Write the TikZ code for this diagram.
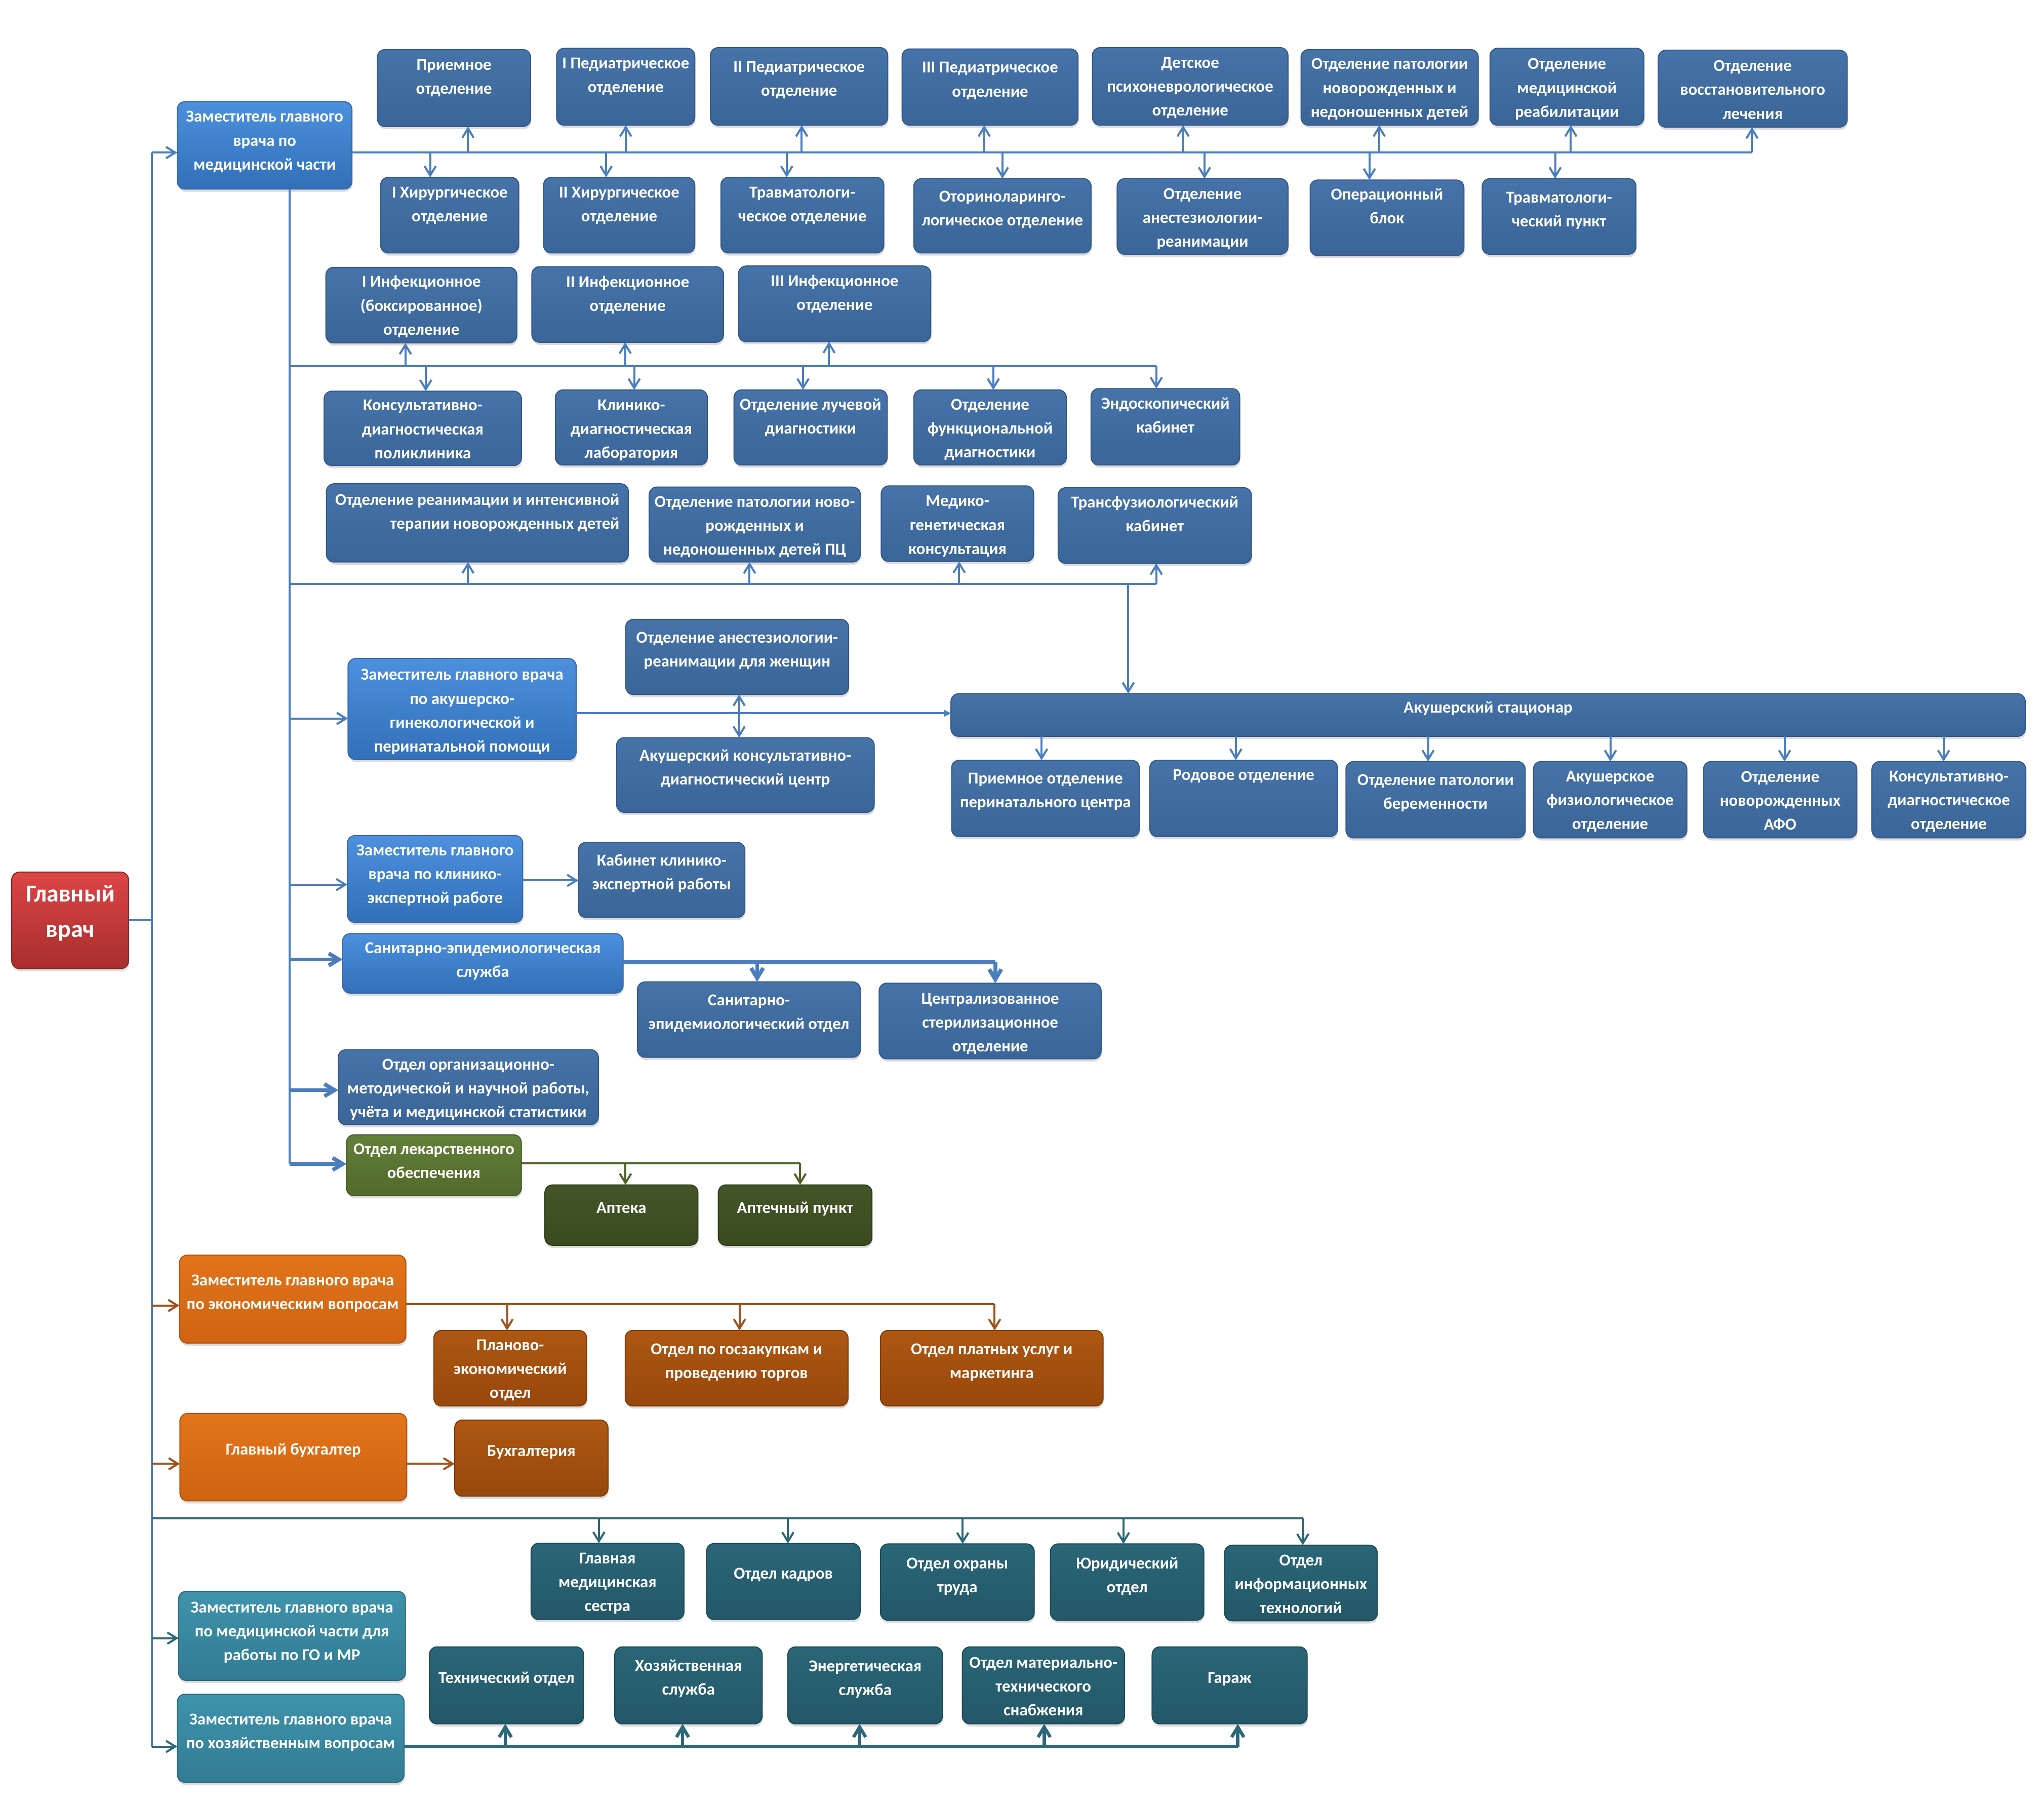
\documentclass[tikz,border=0pt]{standalone}
\usepackage{fontspec}
\setmainfont{Carlito}
\usetikzlibrary{arrows.meta,shadows}
\definecolor{lnB}{HTML}{4A7EBF}
\definecolor{dkTop}{HTML}{4673A8}
\definecolor{dkBot}{HTML}{3A6598}
\definecolor{dkDraw}{HTML}{33588A}
\definecolor{ltTop}{HTML}{4C90DE}
\definecolor{ltMid}{HTML}{3E7ECB}
\definecolor{ltBot}{HTML}{3270B8}
\definecolor{ltDraw}{HTML}{3566A8}
\definecolor{rdTop}{HTML}{DC4545}
\definecolor{rdBot}{HTML}{A82E2E}
\definecolor{rdDraw}{HTML}{8A2626}
\definecolor{orTop}{HTML}{E2741A}
\definecolor{orBot}{HTML}{CF6311}
\definecolor{orDraw}{HTML}{AA540F}
\definecolor{doTop}{HTML}{AD5712}
\definecolor{doBot}{HTML}{98480C}
\definecolor{doDraw}{HTML}{7E3C0A}
\definecolor{grTop}{HTML}{63803A}
\definecolor{grBot}{HTML}{51692B}
\definecolor{grDraw}{HTML}{44581F}
\definecolor{dgTop}{HTML}{445628}
\definecolor{dgBot}{HTML}{3A4A1F}
\definecolor{dgDraw}{HTML}{2F3C18}
\definecolor{tlTop}{HTML}{3E93AB}
\definecolor{tlBot}{HTML}{327C93}
\definecolor{tlDraw}{HTML}{2A6A7E}
\definecolor{dtTop}{HTML}{2A6677}
\definecolor{dtBot}{HTML}{235868}
\definecolor{dtDraw}{HTML}{1C4A57}
\definecolor{lnO}{HTML}{A0521B}
\definecolor{lnG}{HTML}{4F6228}
\definecolor{lnT}{HTML}{2B6878}
\def\U{0.64375pt}
\tikzset{
  bxbase/.style={rounded corners=3.8pt, inner sep=0pt, outer sep=0pt, line width=0.5pt,
    drop shadow={opacity=0.28, shadow xshift=0.3pt, shadow yshift=-1.3pt}},
  dk/.style={bxbase, draw=dkDraw, top color=dkTop, bottom color=dkBot},
  lt/.style={bxbase, draw=ltDraw, top color=ltTop, middle color=ltMid, bottom color=ltBot},
  rd/.style={bxbase, draw=rdDraw, top color=rdTop, bottom color=rdBot},
  orz/.style={bxbase, draw=orDraw, top color=orTop, bottom color=orBot},
  dor/.style={bxbase, draw=doDraw, top color=doTop, bottom color=doBot},
  grz/.style={bxbase, draw=grDraw, top color=grTop, bottom color=grBot},
  dgr/.style={bxbase, draw=dgDraw, top color=dgTop, bottom color=dgBot},
  tlz/.style={bxbase, draw=tlDraw, top color=tlTop, bottom color=tlBot},
  dtl/.style={bxbase, draw=dtDraw, top color=dtTop, bottom color=dtBot},
  txt/.style={text=white, font=\bfseries\fontsize{8.2}{11.78}\selectfont, align=center, inner sep=0pt, anchor=north},
  bigtxt/.style={text=white, font=\bfseries\fontsize{12}{17.6}\selectfont, align=center, inner sep=0pt},
  ln/.style={draw=lnB, line width=1pt},
  arr/.style={ln, -{Straight Barb[length=4.6pt,width=5.6pt]}},
  arrboth/.style={ln, {Straight Barb[length=4.6pt,width=5.6pt]}-{Straight Barb[length=4.6pt,width=5.6pt]}},
  tk/.style={draw=lnB, line width=1.9pt},
  tkarr/.style={tk, -{Straight Barb[length=5pt,width=6pt]}},
  gln/.style={draw=lnG, line width=1pt},
  garr/.style={gln, -{Straight Barb[length=4.6pt,width=5.6pt]}},
  oln/.style={draw=lnO, line width=1pt},
  oarr/.style={oln, -{Straight Barb[length=4.6pt,width=5.6pt]}},
  tln/.style={draw=lnT, line width=1pt},
  tarr/.style={tln, -{Straight Barb[length=4.6pt,width=5.6pt]}},
  ttk/.style={draw=lnT, line width=1.6pt},
  ttkarr/.style={ttk, -{Straight Barb[length=5pt,width=6pt]}},
}
\newcommand\bx[9]{%
  \node[#1, minimum width={(#5-#3)*\U}, minimum height={(#6-#4)*\U}] (#2) at ({(#3+#5)/2},{(#4+#6)/2}) {};
  \node[txt,#8] (#2t) at ({(#3+#5)/2},{#7-7}) {\rule{0pt}{7pt}#9};}
\newcommand\vto[4]{\coordinate (#2) at (#3); \draw[#1] (#2) -- (#2 |- #4);}
\newcommand\hto[4]{\coordinate (#2) at (#3); \draw[#1] (#2) -- (#2 -| #4);}
\begin{document}
\begin{tikzpicture}[x=0.64375pt,y=-0.64375pt]
\useasboundingbox[fill=white] (0,0) rectangle (1568,1384);
% root
\node[rd, minimum width={(98.6-9)*\U}, minimum height={(742.8-668.8)*\U}] (R) at (53.8,705.8) {};
\node[bigtxt] (Rt) at (54,700.3) {Главный\\врач};
% medical part
\bx{lt}{Zmed}{136}{78}{270}{145}{89.4}{}{Заместитель главного\\врача по\\медицинской части}
\bx{dk}{A1}{289.5}{38}{407}{97}{49.6}{}{Приемное\\отделение}
\bx{dk}{A2}{427}{37}{533}{96}{48.4}{}{I Педиатрическое\\отделение}
\bx{dk}{A3}{545}{36.5}{681}{96}{51.1}{}{II Педиатрическое\\отделение}
\bx{dk}{A4}{692}{37.5}{827}{96}{51.7}{}{III Педиатрическое\\отделение}
\bx{dk}{A5}{838}{36.5}{988}{96}{48.1}{}{Детское\\психоневрологическое\\отделение}
\bx{dk}{A6}{998}{38}{1134}{96}{49}{}{Отделение патологии\\новорожденных и\\недоношенных детей}
\bx{dk}{A7}{1143}{37}{1261}{96}{49}{}{Отделение\\медицинской\\реабилитации}
\bx{dk}{A8}{1272}{38.5}{1417}{97.5}{50.5}{}{Отделение\\восстановительного\\лечения}
\bx{dk}{B1}{292}{136}{398}{194}{147.4}{}{I Хирургическое\\отделение}
\bx{dk}{B2}{417}{136}{533}{194}{147.4}{}{II Хирургическое\\отделение}
\bx{dk}{B3}{553}{136}{678}{194}{147.4}{}{Травматологи-\\ческое отделение}
\bx{dk}{B4}{701}{137}{837}{194}{150.4}{}{Оториноларинго-\\логическое отделение}
\bx{dk}{B5}{857}{137}{988}{195}{148.6}{}{Отделение\\анестезиологии-\\реанимации}
\bx{dk}{B6}{1005}{138}{1123}{196}{148.9}{}{Операционный\\блок}
\bx{dk}{B7}{1137}{137}{1255}{195}{151.2}{}{Травматологи-\\ческий пункт}
\bx{dk}{C1}{250}{205}{396.5}{263}{216}{}{I Инфекционное\\(боксированное)\\отделение}
\bx{dk}{C2}{408}{204.5}{555}{262.5}{216.3}{}{II Инфекционное\\отделение}
\bx{dk}{C3}{566.5}{204}{714}{262}{215.4}{}{III Инфекционное\\отделение}
\bx{dk}{D1}{248.6}{300}{400}{357}{310.8}{}{Консультативно-\\диагностическая\\поликлиника}
\bx{dk}{D2}{426}{299}{542.6}{356.6}{310.5}{}{Клинико-\\диагностическая\\лаборатория}
\bx{dk}{D3}{563}{299}{680.6}{356.6}{310.2}{}{Отделение лучевой\\диагностики}
\bx{dk}{D4}{701}{299}{818}{356.6}{310.2}{}{Отделение\\функциональной\\диагностики}
\bx{dk}{D5}{837}{298}{951}{356.6}{309.3}{}{Эндоскопический\\кабинет}
\bx{dk}{E1}{250.4}{371}{482}{431}{383.3}{align=right}{Отделение реанимации и интенсивной\\терапии новорожденных детей}
\bx{dk}{E2}{498}{373.5}{660}{431}{384.8}{}{Отделение патологии ново-\\рожденных и\\недоношенных детей ПЦ}
\bx{dk}{E3}{676}{372.6}{793}{430.6}{384.2}{}{Медико-\\генетическая\\консультация}
\bx{dk}{E4}{811.7}{374}{960}{432}{385.1}{}{Трансфузиологический\\кабинет}
% obstetrics
\bx{lt}{F}{267}{505}{442}{582.5}{517.4}{}{Заместитель главного врача\\по акушерско-\\гинекологической и\\перинатальной помощи}
\bx{dk}{F1}{480}{475}{651}{532.6}{488.8}{}{Отделение анестезиологии-\\реанимации для женщин}
\bx{dk}{F2}{473}{565.7}{670.6}{623}{579.3}{}{Акушерский консультативно-\\диагностический центр}
\bx{dk}{G}{729.5}{532}{1553.6}{564.7}{542.6}{}{Акушерский стационар}
\bx{dk}{G1}{730}{583}{874}{641.6}{597}{}{Приемное отделение\\перинатального центра}
\bx{dk}{G2}{882}{583}{1026}{641.6}{594}{}{Родовое отделение}
\bx{dk}{G3}{1032.5}{584}{1170}{642.6}{598}{}{Отделение патологии\\беременности}
\bx{dk}{G4}{1176.3}{584}{1294}{642.6}{595.3}{}{Акушерское\\физиологическое\\отделение}
\bx{dk}{G5}{1306.8}{584}{1424.4}{642.6}{595.7}{}{Отделение\\новорожденных\\АФО}
\bx{dk}{G6}{1436}{584}{1554}{642.6}{595.3}{}{Консультативно-\\диагностическое\\отделение}
\bx{lt}{H}{266.5}{640.8}{401}{707.4}{652}{}{Заместитель главного\\врача по клинико-\\экспертной работе}
\bx{dk}{H1}{443.7}{646}{571.4}{703.6}{659.8}{}{Кабинет клинико-\\экспертной работы}
\bx{lt}{I}{262.8}{716}{478}{761.6}{726.8}{}{Санитарно-эпидемиологическая\\служба}
\bx{dk}{I1}{489}{753}{660}{810.8}{767}{}{Санитарно-\\эпидемиологический отдел}
\bx{dk}{I2}{674.4}{754}{844.7}{812}{765.7}{}{Централизованное\\стерилизационное\\отделение}
\bx{dk}{J}{259.5}{805}{459}{862.5}{816.3}{}{Отдел организационно-\\методической и научной работы,\\учёта и медицинской статистики}
\bx{grz}{K}{265.8}{870.3}{399.9}{917}{881.3}{}{Отдел лекарственного\\обеспечения}
\bx{dgr}{K1}{418}{908.7}{535.4}{955}{926.4}{}{Аптека}
\bx{dgr}{K2}{551}{908.7}{668.9}{955}{926.4}{}{Аптечный пункт}
% economics
\bx{orz}{L}{137.7}{962.6}{311.4}{1030}{981.6}{}{Заместитель главного врача\\по экономическим вопросам}
\bx{dor}{L1}{332.8}{1020.3}{450}{1078.2}{1031.5}{}{Планово-\\экономический\\отдел}
\bx{dor}{L2}{479.6}{1020.3}{650.5}{1078.2}{1034.7}{}{Отдел по госзакупкам и\\проведению торгов}
\bx{dor}{L3}{675.4}{1020.3}{846.2}{1078.2}{1034.7}{}{Отдел платных услуг и\\маркетинга}
\bx{orz}{M}{138}{1084}{312}{1151}{1111.6}{}{Главный бухгалтер}
\bx{dor}{M1}{348.8}{1089}{466.4}{1147.4}{1112.8}{}{Бухгалтерия}
% teal
\bx{dtl}{N1}{407.4}{1183.5}{524.7}{1242}{1195}{}{Главная\\медицинская\\сестра}
\bx{dtl}{N2}{542}{1183.7}{659.8}{1242}{1206.8}{}{Отдел кадров}
\bx{dtl}{N3}{675.4}{1184}{793.4}{1242.6}{1199}{}{Отдел охраны\\труда}
\bx{dtl}{N4}{805.8}{1184}{923.5}{1242.6}{1199}{}{Юридический\\отдел}
\bx{dtl}{N5}{939.4}{1185}{1056.5}{1243}{1196.4}{}{Отдел\\информационных\\технологий}
\bx{tlz}{O}{137}{1220.4}{311}{1288.7}{1232.7}{}{Заместитель главного врача\\по медицинской части для\\работы по ГО и МР}
\bx{tlz}{P}{136}{1299.3}{310}{1366.8}{1318.4}{}{Заместитель главного врача\\по хозяйственным вопросам}
\bx{dtl}{P1}{329.4}{1263}{447.7}{1322}{1286.6}{}{Технический отдел}
\bx{dtl}{P2}{471.6}{1263}{584.7}{1322}{1277.4}{}{Хозяйственная\\служба}
\bx{dtl}{P3}{604.4}{1263}{723}{1322}{1277.6}{}{Энергетическая\\служба}
\bx{dtl}{P4}{738.2}{1263}{862.6}{1322}{1275.1}{}{Отдел материально-\\технического\\снабжения}
\bx{dtl}{P5}{883.8}{1263}{1002.7}{1322}{1286.6}{}{Гараж}
% ---------------- connectors
\coordinate (t0) at (116.5,117);
\coordinate (t1) at (116.5,1339.4);
\draw[ln] (t0) -- (t1);
\draw[ln] (R.east) -- (R.east -| t0);
\draw[arr] (t0) -- (t0 -| Zmed.west);
\coordinate (b1) at (1344,117);
\draw[ln] (t0 -| Zmed.east) -- (b1);
\draw[arr] (b1) -- (b1 |- A8.south);
\vto{arr}{ua1}{359,117}{A1.south}
\vto{arr}{ua2}{480,117}{A2.south}
\vto{arr}{ua3}{615,117}{A3.south}
\vto{arr}{ua4}{755,117}{A4.south}
\vto{arr}{ua5}{907.6,117}{A5.south}
\vto{arr}{ua6}{1058,117}{A6.south}
\vto{arr}{ua7}{1205,117}{A7.south}
\vto{arr}{db1}{330,117}{B1.north}
\vto{arr}{db2}{465,117}{B2.north}
\vto{arr}{db3}{603.5,117}{B3.north}
\vto{arr}{db4}{769,117}{B4.north}
\vto{arr}{db5}{924,117}{B5.north}
\vto{arr}{db6}{1050.5,117}{B6.north}
\vto{arr}{db7}{1193,117}{B7.north}
\coordinate (s0) at (222,145);
\coordinate (s1) at (222,892.6);
\draw[ln] (s0) -- (s1);
\coordinate (c0) at (222,281); \coordinate (c1) at (887,281);
\draw[ln] (c0) -- (c1);
\draw[arr] (c1) -- (c1 |- D5.north);
\vto{arr}{uc1}{311,281}{C1.south}
\vto{arr}{uc2}{479.6,281}{C2.south}
\vto{arr}{uc3}{636,281}{C3.south}
\vto{arr}{dd1}{326.6,281}{D1.north}
\vto{arr}{dd2}{486.5,281}{D2.north}
\vto{arr}{dd3}{616,281}{D3.north}
\vto{arr}{dd4}{762,281}{D4.north}
\coordinate (e0) at (222,448); \coordinate (e1) at (887,448);
\draw[ln] (e0) -- (e1);
\draw[arr] (e1) -- (e1 |- E4.south);
\vto{arr}{ue1}{359,448}{E1.south}
\vto{arr}{ue2}{575,448}{E2.south}
\vto{arr}{ue3}{735.8,448}{E3.south}
\vto{arr}{eg}{865.5,448}{G.north}
\hto{arr}{sf}{222,551}{F.west}
\hto{arr}{sh}{222,678.4}{H.west}
\hto{tkarr}{si}{222,735.8}{I.west}
\hto{tkarr}{sj}{222,836}{J.west}
\draw[tkarr] (s1) -- (s1 -| K.west);
\hto{ln,-{Triangle[length=3.4pt,width=3.2pt]}}{fg}{442,547}{G.west}
\coordinate (fd) at (567,550);
\draw[arrboth] (fd |- F1.south) -- (fd |- F2.north);
\vto{arr}{g1}{799,564.7}{G1.north}
\vto{arr}{g2}{948,564.7}{G2.north}
\vto{arr}{g3}{1095.5,564.7}{G3.north}
\vto{arr}{g4}{1235.4,564.7}{G4.north}
\vto{arr}{g5}{1369,564.7}{G5.north}
\vto{arr}{g6}{1491,564.7}{G6.north}
\hto{arr}{hh}{401,675.2}{H1.west}
\coordinate (i0) at (478,738); \coordinate (i1) at (763.5,738);
\draw[tk] (i0) -- (i1);
\draw[tkarr] (i1) -- (i1 |- I2.north);
\vto{tkarr}{i2}{580.8,738}{I1.north}
\coordinate (k0) at (399.9,892); \coordinate (k1) at (613.8,892);
\draw[gln] (k0) -- (k1);
\draw[garr] (k1) -- (k1 |- K2.north);
\vto{garr}{k2}{479.8,892}{K1.north}
\hto{oarr}{tl}{116.5,1001.2}{L.west}
\hto{oarr}{tm}{116.5,1122.6}{M.west}
\coordinate (l0) at (311.4,1000); \coordinate (l1) at (763,1000);
\draw[oln] (l0) -- (l1);
\draw[oarr] (l1) -- (l1 |- L3.north);
\vto{oarr}{l2}{389,1000}{L1.north}
\vto{oarr}{l3}{567.3,1000}{L2.north}
\hto{oarr}{mm}{312,1122.6}{M1.west}
\coordinate (n0) at (116.5,1164.4); \coordinate (n1) at (999.4,1164.4);
\draw[tln] (n0) -- (n1);
\draw[tarr] (n1) -- (n1 |- N5.north);
\vto{tarr}{n2}{459.4,1164.4}{N1.north}
\vto{tarr}{n3}{604.4,1164.4}{N2.north}
\vto{tarr}{n4}{738.5,1164.4}{N3.north}
\vto{tarr}{n5}{861.8,1164.4}{N4.north}
\hto{tarr}{to}{116.5,1256.3}{O.west}
\draw[tarr] (t1) -- (t1 -| P.west);
\coordinate (p0) at (310,1339.4); \coordinate (p1) at (949.5,1339.4);
\draw[ttk] (p0) -- (p1);
\draw[ttkarr] (p1) -- (p1 |- P5.south);
\vto{ttkarr}{p2}{387.6,1339.4}{P1.south}
\vto{ttkarr}{p3}{523.6,1339.4}{P2.south}
\vto{ttkarr}{p4}{659.4,1339.4}{P3.south}
\vto{ttkarr}{p5}{801,1339.4}{P4.south}
\end{tikzpicture}
\end{document}
